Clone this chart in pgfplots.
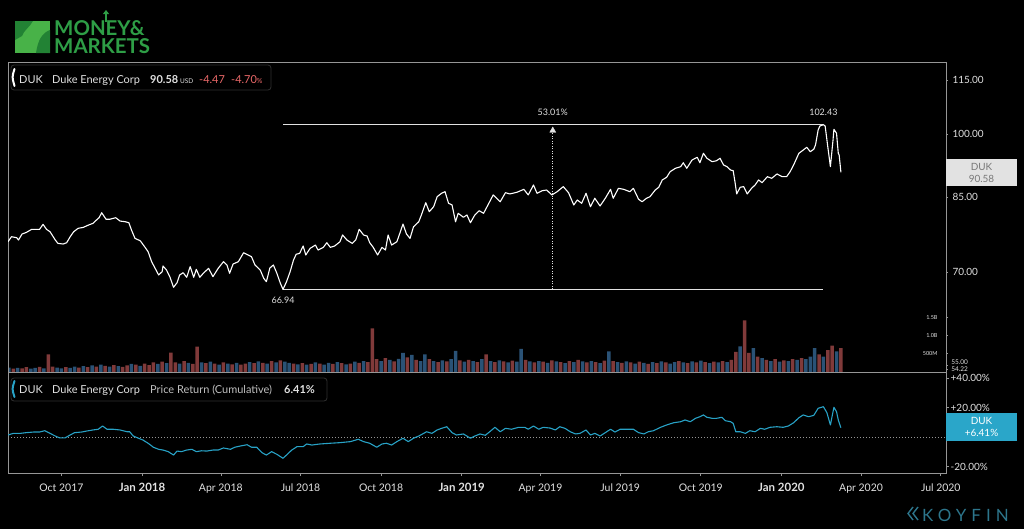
\documentclass[border=0pt]{standalone}
\usepackage{fontspec}
\setmainfont{Lato}
\usepackage{pgfplots}
\usepackage{pgfplotstable}
\usetikzlibrary{arrows.meta}
\pgfplotsset{compat=1.18}
\definecolor{framegray}{RGB}{150,150,150}
\definecolor{ticktext}{RGB}{225,225,225}
\definecolor{volblue}{RGB}{42,82,118}
\definecolor{volred}{RGB}{128,58,58}
\definecolor{retcyan}{RGB}{40,162,198}
\definecolor{boxcyan}{RGB}{42,166,201}
\definecolor{boxgray}{RGB}{226,226,226}
\definecolor{boxtext}{RGB}{120,120,120}
\definecolor{salmon}{RGB}{235,105,105}
\definecolor{logogreen}{RGB}{46,158,70}
\definecolor{logosq}{RGB}{72,178,72}
\definecolor{logodark}{RGB}{34,130,52}
\definecolor{koyfin}{RGB}{45,118,140}
\definecolor{boxborder}{RGB}{48,48,48}

\pgfplotstableread[row sep=\\]{
d p\\ -153 75.71\\ -149 76.70\\ -143 76.50\\ -141 76.04\\ -137 77.23\\ -132 77.57\\ -126 78.17\\ -120 78.17\\ -117 78.17\\ -113 79.19\\ -109 78.17\\ -105 77.69\\ -99 76.04\\ -96 75.40\\ -90 75.26\\ -86 75.52\\ -82 76.70\\ -78 77.69\\ -73 78.38\\ -67 78.58\\ -61 79.05\\ -56 79.40\\ -52 80.07\\ -49 80.55\\ -46 81.60\\ -41 80.22\\ -37 80.22\\ -30 80.55\\ -25 79.87\\ -19 79.72\\ -15 79.52\\ -12 78.03\\ -8 76.38\\ -2 75.90\\ 3 74.74\\ 7 73.78\\ 11 71.90\\ 15 70.68\\ 19 69.47\\ 23 70.07\\ 24 71.11\\ 28 70.37\\ 32 69.06\\ 36 67.30\\ 40 68.10\\ 43 69.47\\ 47 69.89\\ 51 69.06\\ 55 70.98\\ 59 69.06\\ 62 70.50\\ 66 69.06\\ 70 69.78\\ 76 70.68\\ 81 69.17\\ 87 70.68\\ 93 71.90\\ 97 71.29\\ 100 69.78\\ 104 71.47\\ 110 71.90\\ 116 73.59\\ 121 73.16\\ 125 72.84\\ 129 71.29\\ 135 70.37\\ 139 68.88\\ 142 68.28\\ 146 70.74\\ 150 71.29\\ 154 69.78\\ 158 68.00\\ 161 66.94\\ 165 68.28\\ 169 70.01\\ 173 72.21\\ 176 73.29\\ 180 73.48\\ 184 74.88\\ 187 73.16\\ 192 74.43\\ 198 75.07\\ 201 74.10\\ 207 74.62\\ 211 75.52\\ 215 74.62\\ 220 74.88\\ 226 75.71\\ 229 77.04\\ 234 76.04\\ 240 75.40\\ 244 76.04\\ 248 78.17\\ 253 77.04\\ 257 76.84\\ 260 75.52\\ 264 74.62\\ 269 73.16\\ 274 74.62\\ 278 74.10\\ 281 77.04\\ 285 75.07\\ 291 75.71\\ 295 77.69\\ 298 79.25\\ 302 77.23\\ 306 76.38\\ 310 78.70\\ 316 79.72\\ 319 81.12\\ 324 83.74\\ 328 81.81\\ 333 82.87\\ 337 85.05\\ 342 85.80\\ 346 86.15\\ 350 83.61\\ 354 83.25\\ 358 79.72\\ 361 81.48\\ 367 80.64\\ 371 81.12\\ 375 79.52\\ 380 81.12\\ 385 82.02\\ 390 81.48\\ 396 83.61\\ 401 85.43\\ 409 83.95\\ 415 85.93\\ 420 85.65\\ 428 86.02\\ 436 86.68\\ 441 85.43\\ 447 87.66\\ 451 85.80\\ 457 86.37\\ 462 86.53\\ 468 85.43\\ 474 86.15\\ 481 87.29\\ 487 85.93\\ 493 83.25\\ 497 84.32\\ 502 83.61\\ 507 85.80\\ 512 82.87\\ 517 84.70\\ 523 83.03\\ 529 84.70\\ 535 86.68\\ 538 84.70\\ 544 86.91\\ 550 86.68\\ 557 86.15\\ 561 86.91\\ 567 84.48\\ 571 83.95\\ 576 84.70\\ 580 85.05\\ 586 86.53\\ 590 87.14\\ 594 88.80\\ 599 89.42\\ 603 90.72\\ 609 91.52\\ 615 91.90\\ 618 92.85\\ 622 91.52\\ 628 93.50\\ 634 94.16\\ 637 92.85\\ 641 95.14\\ 645 93.92\\ 651 93.09\\ 656 93.33\\ 660 93.92\\ 664 92.30\\ 668 91.90\\ 672 91.11\\ 675 90.95\\ 677 88.41\\ 679 85.65\\ 683 87.14\\ 687 87.29\\ 691 85.65\\ 696 86.91\\ 700 87.66\\ 704 88.80\\ 708 88.19\\ 714 89.56\\ 719 89.19\\ 725 90.19\\ 731 89.56\\ 736 89.56\\ 740 90.72\\ 744 92.30\\ 750 95.14\\ 755 95.95\\ 759 96.63\\ 763 95.53\\ 767 96.13\\ 769 97.21\\ 772 101.04\\ 774 102.09\\ 778 102.43\\ 780 102.09\\ 783 96.78\\ 786 91.90\\ 789 98.46\\ 790 101.22\\ 793 100.18\\ 795 95.14\\ 796 94.72\\ 798 90.58\\
}\pricetable

\pgfplotstableread[row sep=\\]{
d r\\ -153 1.5\\ -147 2.6\\ -139 2.6\\ -132 3.1\\ -124 3.5\\ -117 3.5\\ -111 4.4\\ -105 2.6\\ -99 0.8\\ -94 -0.5\\ -88 -0.5\\ -82 1.5\\ -77 3.1\\ -69 3.5\\ -63 4.2\\ -56 4.9\\ -50 5.4\\ -45 7.6\\ -40 5.4\\ -33 5.4\\ -25 4.9\\ -17 3.7\\ -14 3.7\\ -10 0.8\\ -4 -0.7\\ 1 -1.9\\ 7 -4.1\\ 13 -6.8\\ 19 -8.2\\ 24 -8.7\\ 30 -9.8\\ 36 -12.1\\ 40 -9.4\\ 45 -9.8\\ 51 -8.7\\ 57 -8.2\\ 62 -9.8\\ 68 -9.2\\ 74 -9.4\\ 81 -8.7\\ 87 -8.7\\ 93 -7.3\\ 101 -8.2\\ 106 -6.8\\ 112 -6.0\\ 120 -5.1\\ 125 -6.8\\ 131 -6.8\\ 137 -10.5\\ 142 -12.1\\ 148 -9.8\\ 154 -11.6\\ 161 -14.3\\ 165 -12.1\\ 171 -8.7\\ 177 -6.4\\ 184 -6.4\\ 188 -4.6\\ 194 -5.3\\ 203 -4.6\\ 215 -4.1\\ 226 -3.7\\ 238 -3.0\\ 247 -1.4\\ 253 -3.0\\ 260 -4.1\\ 268 -6.8\\ 274 -4.6\\ 279 -4.1\\ 285 -5.3\\ 291 -3.0\\ 298 -0.7\\ 304 -3.0\\ 310 -0.7\\ 316 0.8\\ 325 3.7\\ 331 2.6\\ 337 4.9\\ 342 6.0\\ 348 7.1\\ 354 3.1\\ 359 1.5\\ 367 2.2\\ 375 -0.7\\ 380 0.8\\ 386 2.2\\ 392 1.3\\ 397 3.7\\ 403 6.7\\ 409 3.7\\ 415 6.0\\ 422 5.4\\ 430 6.7\\ 437 6.7\\ 441 5.4\\ 447 7.6\\ 453 5.4\\ 458 6.7\\ 466 6.2\\ 472 4.9\\ 477 7.1\\ 483 6.0\\ 489 3.7\\ 495 2.2\\ 500 2.6\\ 507 4.9\\ 512 1.5\\ 517 2.6\\ 523 0.8\\ 529 3.1\\ 535 5.4\\ 540 3.5\\ 546 5.4\\ 554 5.4\\ 561 5.4\\ 567 3.1\\ 573 2.2\\ 578 3.7\\ 584 4.4\\ 592 6.7\\ 599 8.3\\ 607 9.8\\ 615 10.5\\ 620 11.7\\ 626 10.5\\ 632 12.8\\ 637 13.9\\ 641 15.1\\ 645 13.5\\ 651 12.8\\ 656 12.8\\ 662 13.5\\ 666 11.2\\ 672 10.5\\ 675 9.4\\ 678 3.7\\ 683 3.7\\ 689 2.6\\ 694 4.4\\ 700 3.7\\ 706 6.0\\ 711 5.4\\ 717 6.7\\ 725 7.1\\ 732 6.7\\ 738 7.6\\ 744 9.8\\ 750 13.2\\ 755 15.1\\ 761 13.9\\ 767 14.8\\ 772 19.6\\ 778 20.7\\ 782 16.6\\ 786 8.3\\ 790 20.3\\ 793 17.3\\ 795 11.7\\ 798 6.41\\
}\rettable

\pgfplotstableread[row sep=\\]{
d v c\\ -152 120 1\\ -147 90 0\\ -142 110 1\\ -137 100 0\\ -132 130 0\\ -127 90 1\\ -122 110 1\\ -117 140 0\\ -112 100 1\\ -107 480 0\\ -102 150 0\\ -97 120 1\\ -92 100 1\\ -87 130 0\\ -82 110 1\\ -77 150 1\\ -72 120 0\\ -67 160 1\\ -62 130 0\\ -57 180 1\\ -52 150 0\\ -47 200 1\\ -42 170 0\\ -37 150 1\\ -32 190 0\\ -27 160 1\\ -22 140 0\\ -17 180 0\\ -12 220 1\\ -7 200 0\\ -2 170 1\\ 3 230 0\\ 8 190 0\\ 13 260 0\\ 18 220 1\\ 23 280 0\\ 28 240 1\\ 33 530 0\\ 38 260 0\\ 43 230 1\\ 48 300 0\\ 53 250 1\\ 58 220 0\\ 63 690 0\\ 68 260 1\\ 73 240 0\\ 78 280 1\\ 83 230 0\\ 88 200 1\\ 93 260 0\\ 98 230 1\\ 103 210 0\\ 108 250 1\\ 113 200 0\\ 118 230 0\\ 123 270 1\\ 128 240 0\\ 133 290 1\\ 138 250 0\\ 143 230 1\\ 148 300 0\\ 153 260 1\\ 158 320 0\\ 163 280 1\\ 168 250 1\\ 173 230 0\\ 178 210 1\\ 183 240 0\\ 188 200 1\\ 193 220 0\\ 198 260 1\\ 203 230 0\\ 208 200 1\\ 213 250 1\\ 218 220 0\\ 223 270 1\\ 228 240 0\\ 233 210 1\\ 238 230 0\\ 243 280 1\\ 248 250 0\\ 253 300 1\\ 258 270 0\\ 263 1190 0\\ 268 350 0\\ 273 300 1\\ 278 380 0\\ 283 330 1\\ 288 290 0\\ 293 360 1\\ 298 520 1\\ 303 400 0\\ 308 470 1\\ 313 330 0\\ 318 300 1\\ 323 480 1\\ 328 350 0\\ 333 300 1\\ 338 270 0\\ 343 320 1\\ 348 290 0\\ 353 350 1\\ 358 580 1\\ 363 320 0\\ 368 280 1\\ 373 330 0\\ 378 300 1\\ 383 270 0\\ 388 350 1\\ 393 480 0\\ 398 300 1\\ 403 270 0\\ 408 320 1\\ 413 290 0\\ 418 260 1\\ 423 310 0\\ 428 280 1\\ 433 630 1\\ 438 330 0\\ 443 290 1\\ 448 260 0\\ 453 300 1\\ 458 280 0\\ 463 250 1\\ 468 320 0\\ 473 290 1\\ 478 270 0\\ 483 240 1\\ 488 300 0\\ 493 270 1\\ 498 330 0\\ 503 290 1\\ 508 260 0\\ 513 300 1\\ 518 270 0\\ 523 240 1\\ 528 310 0\\ 533 560 1\\ 538 300 0\\ 543 270 1\\ 548 250 0\\ 553 290 1\\ 558 260 0\\ 563 230 1\\ 568 280 0\\ 573 250 1\\ 578 220 0\\ 583 270 1\\ 588 240 0\\ 593 290 1\\ 598 260 0\\ 603 230 1\\ 608 270 1\\ 613 300 0\\ 618 260 1\\ 623 240 0\\ 628 290 1\\ 633 260 0\\ 638 310 1\\ 643 270 0\\ 648 240 1\\ 653 280 0\\ 658 260 1\\ 663 300 0\\ 668 270 1\\ 673 330 0\\ 678 550 0\\ 683 700 1\\ 688 1410 0\\ 693 520 0\\ 698 650 1\\ 703 420 0\\ 708 380 1\\ 713 330 0\\ 718 300 1\\ 723 350 0\\ 728 280 1\\ 733 320 0\\ 738 300 1\\ 743 350 0\\ 748 330 1\\ 753 380 0\\ 758 350 1\\ 763 420 1\\ 768 650 1\\ 773 480 0\\ 778 420 1\\ 783 600 0\\ 788 720 0\\ 793 560 1\\ 798 650 0\\
}\voltable

\begin{document}
\begin{tikzpicture}
\useasboundingbox (0,0) rectangle (1024bp,-529bp);
\fill[black] (0,0) rectangle (1024bp,-529bp);

% volume overlay
\begin{axis}[at={(8bp,-372bp)}, anchor=south west, scale only axis,
  width=938bp, height=57bp, xmin=-153, xmax=918, ymin=0, ymax=1556,
  axis line style={draw=none}, xtick=\empty,
  ytick={500,1000,1500}, yticklabels={500M,1.0B,1.5B},
  ytick pos=right, yticklabel pos=right, tick align=outside,
  major tick length=2bp, tick style={draw=framegray, line width=0.6bp},
  yticklabel style={anchor=east, xshift=-7bp, font=\fontsize{5.5}{6}\selectfont, text=ticktext},
  /pgf/number format/assume math mode=true]
\addplot[ybar, bar width=4.0, bar shift=0pt, fill=volblue, draw=none,
  restrict expr to domain={\thisrow{c}}{1:1}] table[x=d, y=v] {\voltable};
\addplot[ybar, bar width=4.0, bar shift=0pt, fill=volred, draw=none,
  restrict expr to domain={\thisrow{c}}{0:0}] table[x=d, y=v] {\voltable};
\end{axis}

% price panel
\begin{axis}[at={(8bp,-372bp)}, anchor=south west, scale only axis,
  width=938bp, height=310bp, xmin=-153, xmax=918,
  ymode=log, ymin=54.07, ymax=120.45,
  axis line style={draw=framegray, line width=0.8bp},
  xtick=\empty,
  ytick={70,85,100,115}, yticklabels={70.00,85.00,100.00,115.00},
  ytick pos=right, yticklabel pos=right, tick align=outside,
  major tick length=2bp, tick style={draw=framegray, line width=0.6bp},
  yticklabel style={font=\fontsize{10}{12}\selectfont, text=ticktext, xshift=1bp},
  /pgf/number format/assume math mode=true]
\addplot[ticktext, line width=1bp] coordinates {(161,102.43) (778,102.43)};
\addplot[ticktext, line width=1bp] coordinates {(161,66.94) (778,66.94)};
\addplot[ticktext, line width=0.6bp, dash pattern=on 1bp off 1.5bp] coordinates {(469,66.94) (469,101.0)};
\addplot[only marks, mark=triangle*, mark size=3.5bp, mark options={fill=ticktext, draw=ticktext}] coordinates {(469,100.9)};
\addplot[white, line width=1.1bp, line join=round] table[x=d, y=p] {\pricetable};
\node[text=ticktext, font=\fontsize{9}{10}\selectfont] at (axis cs:469,105.9) {53.01\%};
\node[text=ticktext, font=\fontsize{9}{10}\selectfont] at (axis cs:778,105.9) {102.43};
\node[text=ticktext, font=\fontsize{9}{10}\selectfont] at (axis cs:161,65.1) {66.94};
\end{axis}

% small labels at the foot of the price scale
\draw[framegray, line width=0.6bp] (946bp,-365.6bp) -- ++(2bp,0);
\draw[framegray, line width=0.6bp] (946bp,-369.5bp) -- ++(2bp,0);
\node[anchor=west, inner sep=0.2bp, text=ticktext, font=\fontsize{6.5}{6.5}\selectfont] at (951bp,-362.5bp) {55.00};
\node[anchor=west, inner sep=0.2bp, text=ticktext, font=\fontsize{6.5}{6.5}\selectfont] at (951bp,-369.3bp) {54.22};

% return panel
\begin{axis}[at={(8bp,-473bp)}, anchor=south west, scale only axis,
  width=938bp, height=101bp, xmin=-153, xmax=918, ymin=-24.27, ymax=44.2,
  axis line style={draw=framegray, line width=0.8bp},
  xtick={-92,0,90,181,273,365,455,546,638,730,821,912},
  xticklabels={Oct 2017,{\fontsize{11.5}{13}\selectfont\bfseries Jan 2018},Apr 2018,Jul 2018,Oct 2018,{\fontsize{11.5}{13}\selectfont\bfseries Jan 2019},Apr 2019,Jul 2019,Oct 2019,{\fontsize{11.5}{13}\selectfont\bfseries Jan 2020},Apr 2020,Jul 2020},
  xtick pos=bottom, ytick pos=right, yticklabel pos=right,
  ytick={-20,20,40}, yticklabels={-20.00\%,+20.00\%,+40.00\%},
  tick align=outside, major tick length=3bp,
  tick style={draw=framegray, line width=0.6bp},
  xticklabel style={font=\fontsize{10.5}{12}\selectfont, text=ticktext, yshift=-4bp},
  yticklabel style={font=\fontsize{10}{12}\selectfont, text=ticktext, xshift=1bp, inner sep=0.5bp},
  /pgf/number format/assume math mode=true]
\addplot[framegray, line width=0.6bp, dash pattern=on 1bp off 2bp] coordinates {(-153,0) (918,0)};
\addplot[retcyan, line width=1.1bp, line join=round] table[x=d, y=r] {\rettable};
\end{axis}

% price label box
\fill[boxgray] (946bp,-159bp) rectangle (1017bp,-186bp);
\node[text=boxtext, font=\fontsize{10}{11}\selectfont, inner sep=0] at (981.5bp,-167bp) {DUK};
\node[text=boxtext, font=\fontsize{10}{11}\selectfont, inner sep=0] at (981.5bp,-178.5bp) {90.58};
% return label box
\fill[boxcyan] (946bp,-413bp) rectangle (1017bp,-441bp);
\node[text=white, font=\fontsize{10}{11}\selectfont, inner sep=0] at (981.5bp,-421bp) {DUK};
\node[text=white, font=\fontsize{10}{11}\selectfont, inner sep=0] at (981.5bp,-432.5bp) {+6.41\%};

% title box 1
\draw[rounded corners=3bp, draw=boxborder, fill=black, line width=0.8bp] (11bp,-65bp) rectangle (271bp,-90bp);
\draw[white, line width=2bp, line cap=round] (14.5bp,-69bp) .. controls (12bp,-77bp) .. (14.5bp,-86bp);
\begin{scope}[every node/.style={anchor=base west, inner sep=0, text=ticktext, font=\fontsize{11}{13}\selectfont}]
\node at (19bp,-83bp) {DUK};
\node at (52bp,-83bp) {Duke Energy Corp};
\node[font=\fontsize{11}{13}\selectfont\bfseries] at (150bp,-83bp) {90.58};
\node[font=\fontsize{6.5}{7}\selectfont] at (180bp,-83bp) {USD};
\node[text=salmon] at (199bp,-83bp) {-4.47};
\node[text=salmon] at (231bp,-83bp) {-4.70{\fontsize{7}{8}\selectfont\%}};
\end{scope}

% title box 2
\draw[rounded corners=3bp, draw=boxborder, fill=black, line width=0.8bp] (11bp,-378bp) rectangle (327bp,-401bp);
\draw[retcyan, line width=2bp, line cap=round] (14.5bp,-381bp) .. controls (12bp,-389bp) .. (14.5bp,-397bp);
\begin{scope}[every node/.style={anchor=base west, inner sep=0, text=ticktext, font=\fontsize{11}{13}\selectfont}]
\node at (19bp,-393.5bp) {DUK};
\node at (52bp,-393.5bp) {Duke Energy Corp};
\node[text=ticktext!85!black] at (150bp,-393.5bp) {Price Return (Cumulative)};
\node[font=\fontsize{11}{13}\selectfont\bfseries] at (284bp,-393.5bp) {6.41\%};
\end{scope}

% logo
\fill[logosq] (15bp,-21bp) rectangle (50bp,-53bp);
\fill[logodark] (15bp,-21bp) -- (33bp,-21bp) .. controls (30bp,-27bp) and (24bp,-30bp) .. (22bp,-36bp) -- (15bp,-40bp) -- cycle;
\fill[logodark] (50bp,-30bp) .. controls (42bp,-33bp) and (38bp,-40bp) .. (36bp,-53bp) -- (50bp,-53bp) -- cycle;
\node[anchor=base west, inner sep=0, text=logogreen, font=\fontsize{20.5}{21}\selectfont\bfseries] at (54bp,-35.3bp) {MONEY\&};
\node[anchor=base west, inner sep=0, text=logogreen, font=\fontsize{20.5}{21}\selectfont\bfseries] at (54bp,-53.8bp) {MARKETS};
\draw[logogreen, line width=2bp, -{Triangle[width=6bp,length=4bp]}] (106bp,-22bp) -- (106bp,-10bp);

% koyfin
\node[anchor=base west, inner sep=0, text=koyfin, font=\fontsize{17}{18}\selectfont\addfontfeature{LetterSpace=30}] at (922bp,-521bp) {KOYFIN};
\draw[koyfin, line width=1.4bp] (913bp,-507bp) -- (908bp,-513.5bp) -- (913bp,-520bp);
\draw[koyfin, line width=1.4bp] (918bp,-507bp) -- (913bp,-513.5bp) -- (918bp,-520bp);
\end{tikzpicture}
\end{document}
